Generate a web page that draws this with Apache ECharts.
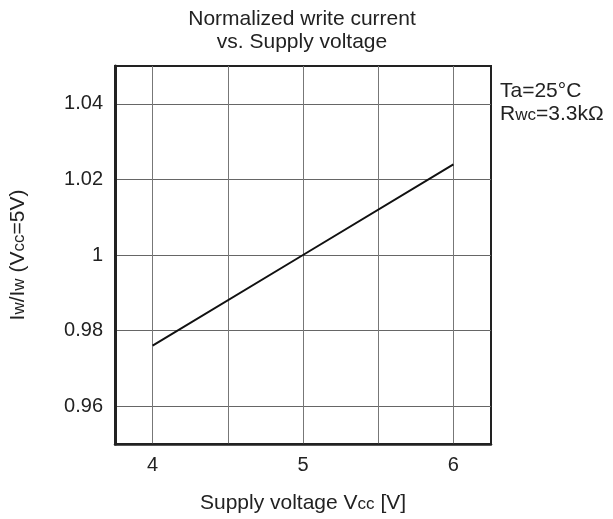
<!DOCTYPE html>
<html>
<head>
<meta charset="utf-8">
<script src="https://cdn.jsdelivr.net/npm/echarts@6/dist/echarts.min.js"></script>
<style>html,body{margin:0;padding:0;background:#fff}#c{width:613px;height:519px}</style>
</head>
<body>
<div id="c"></div>
<script>
const voltage = [4, 5, 6];
const normCurrent = [0.976, 1.0, 1.024];
const xTickLabels = [4, 5, 6];
const yTickLabels = [0.96, 0.98, 1, 1.02, 1.04];
const notes = ['Ta=25°C', 'R{s|wc}=3.3kΩ'];

const chart = echarts.init(document.getElementById('c'));
const F = 'Liberation Sans, Arial, sans-serif';
const TXT = '#222';
const SUB = {fontFamily: F, fontSize: 17, color: TXT, padding: [2,0,0,0]};
chart.setOption({
  animation: false,
  title: {
    text: 'Normalized write current\nvs. Supply voltage',
    left: 297, top: 3, textAlign: 'center',
    textStyle: {fontFamily: F, fontSize: 21, fontWeight: 'normal', color: TXT, lineHeight: 23}
  },
  grid: {left: 114, top: 66, width: 377, height: 378, show: true, borderColor: '#222', borderWidth: 2, backgroundColor: 'transparent'},
  xAxis: {
    type: 'value', min: 3.75, max: 6.25, interval: 0.25,
    name: 'Supply voltage V{s|cc} [V]', nameLocation: 'middle', nameGap: 49,
    nameTextStyle: {fontFamily: F, fontSize: 21, color: TXT, rich: {s: SUB}},
    axisLine: {show: true, lineStyle: {color: '#222', width: 2.5}},
    axisTick: {show: false},
    axisLabel: {
      margin: 11, fontFamily: F, fontSize: 20, color: TXT,
      formatter: v => xTickLabels.some(t => Math.abs(t - v) < 1e-6) ? String(Math.round(v)) : ''
    },
    splitLine: {show: true, lineStyle: {color: ['rgba(0,0,0,0)', '#777'], width: 1}}
  },
  yAxis: {
    type: 'value', min: 0.95, max: 1.05, interval: 0.01,
    name: 'I{s|w}/I{s|w} (V{s|cc}=5V)', nameLocation: 'middle', nameGap: 86, nameRotate: 90,
    nameTextStyle: {fontFamily: F, fontSize: 21, color: TXT, rich: {s: SUB}},
    axisLine: {show: true, lineStyle: {color: '#222', width: 3}},
    axisTick: {show: false},
    axisLabel: {
      margin: 12, fontFamily: F, fontSize: 20, color: TXT,
      formatter: v => {
        const t = yTickLabels.find(t => Math.abs(t - v) < 1e-6);
        return t === undefined ? '' : String(t);
      }
    },
    splitLine: {show: true, lineStyle: {color: ['rgba(0,0,0,0)', '#666'], width: 1}}
  },
  graphic: [{
    type: 'text', left: 500, top: 80,
    style: {
      text: notes.join('\n'), fontFamily: F, fontSize: 21, fill: TXT, lineHeight: 23,
      rich: {s: {fontFamily: F, fontSize: 17, fill: TXT, padding: [2,0,0,0]}}
    }
  }],
  series: [{
    type: 'line', data: voltage.map((v, i) => [v, normCurrent[i]]),
    showSymbol: false, symbol: 'none',
    lineStyle: {color: '#111', width: 2}
  }]
});
</script>
</body>
</html>
